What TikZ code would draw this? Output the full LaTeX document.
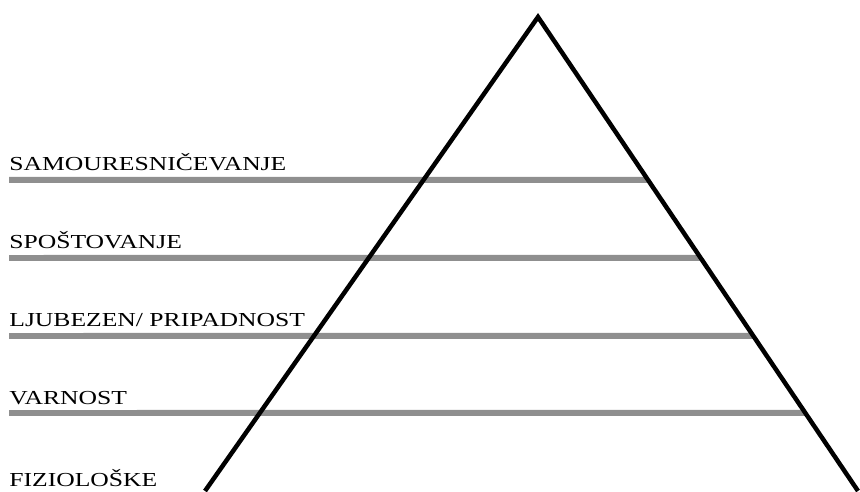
\documentclass[tikz,border=0pt]{standalone}
\usepackage{fontspec}
\setmainfont{Liberation Serif}
\usetikzlibrary{calc}
\definecolor{shelfgray}{HTML}{8F8F8F}

\begin{document}
\begin{tikzpicture}[x=0.02cm, y=0.02cm,
  level/.style={anchor=base west, inner sep=0pt, font=\fontsize{11.3}{13}\selectfont},
  shelf/.style={shelfgray, line width=0.12cm}]
  \useasboundingbox (0,0) rectangle (860,491);
  % pyramid corners
  \coordinate (top) at (538,474);
  \coordinate (bl) at (205,0);
  \coordinate (br) at (858,0);
  % level names
  \node[level] (sam) at (9,320) {\scalebox{1.29}[1]{SAMOURESNIČEVANJE}};
  \node[level] (spo) at (9,242) {\scalebox{1.29}[1]{SPOŠTOVANJE}};
  \node[level] (lju) at (9,164) {\scalebox{1.29}[1]{LJUBEZEN/ PRIPADNOST}};
  \node[level] (var) at (9,87) {\scalebox{1.29}[1]{VARNOST}};
  \node[level] (fiz) at (9,5) {\scalebox{1.29}[1]{FIZIOLOŠKE}};
  % shelves, ending on the right side
  \coordinate (samL) at (9,311);
  \coordinate (spoL) at (9,233);
  \coordinate (ljuL) at (9,155);
  \coordinate (varL) at (9,78);
  \draw[shelf] (samL) -- ($(top)!{(474-311)/474}!(br)$);
  \draw[shelf] (spoL) -- ($(top)!{(474-233)/474}!(br)$);
  \draw[shelf] (ljuL) -- ($(top)!{(474-155)/474}!(br)$);
  \draw[shelf] (varL) -- ($(top)!{(474-78)/474}!(br)$);
  % pyramid
  \draw[line width=0.09cm] (bl) -- (top) -- (br);
\end{tikzpicture}
\end{document}
